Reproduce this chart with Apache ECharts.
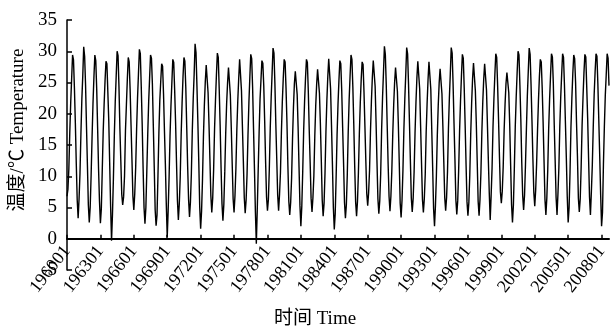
<!DOCTYPE html>
<html>
<head>
<meta charset="utf-8">
<script src="https://cdn.jsdelivr.net/npm/echarts@6/dist/echarts.min.js"></script>
<style>
  html, body { margin: 0; padding: 0; background: #fff; }
  #main { width: 611px; height: 333px; }
</style>
</head>
<body>
<div id="main"></div>
<script>
// monthly mean temperature, one row per year (Jan..Dec)
var temps1960s = [
  [6.8, 7.9, 11.2, 17.0, 21.8, 25.6, 29.4, 28.6, 24.1, 18.5, 12.0, 6.2],
  [3.3, 6.4, 10.5, 16.8, 22.3, 26.1, 30.7, 29.2, 24.6, 18.0, 11.8, 5.4],
  [2.6, 5.1, 10.2, 16.2, 21.6, 25.8, 29.4, 28.5, 24.0, 17.7, 11.2, 6.0],
  [2.5, 4.8, 11.0, 17.1, 21.5, 25.3, 28.4, 28.0, 23.5, 18.9, 12.1, 5.2],
  [-0.3, 3.9, 9.6, 16.5, 22.0, 26.0, 30.0, 29.3, 24.3, 17.6, 12.4, 7.1],
  [5.4, 6.7, 10.1, 17.3, 21.4, 25.5, 29.0, 28.3, 23.9, 18.2, 12.6, 6.8],
  [4.6, 7.2, 11.4, 17.5, 22.5, 26.4, 30.3, 29.6, 24.4, 18.4, 11.3, 5.0],
  [2.4, 5.0, 10.8, 16.7, 21.9, 25.7, 29.4, 28.9, 24.8, 18.1, 11.5, 4.6],
  [2.1, 3.8, 10.0, 16.9, 22.1, 25.2, 28.0, 27.6, 23.2, 17.3, 11.9, 5.5],
  [0.3, 4.5, 9.8, 16.4, 21.2, 25.0, 28.7, 28.2, 23.8, 18.6, 12.2, 6.1]
];
var temps1970s = [
  [3.0, 5.6, 9.9, 16.6, 21.7, 25.9, 29.0, 28.4, 24.2, 17.9, 11.6, 6.3],
  [3.5, 5.9, 10.4, 17.2, 22.4, 26.3, 31.2, 29.8, 24.5, 18.7, 12.3, 5.1],
  [1.6, 4.4, 9.5, 16.3, 21.3, 25.1, 27.8, 27.5, 23.4, 18.3, 12.7, 6.9],
  [4.2, 6.5, 11.1, 17.6, 22.2, 26.2, 29.7, 29.0, 24.0, 18.2, 11.4, 5.6],
  [2.9, 5.5, 10.7, 16.8, 21.6, 24.9, 27.4, 27.1, 23.0, 17.8, 12.0, 6.4],
  [4.2, 6.9, 11.3, 17.4, 22.0, 25.6, 28.7, 28.4, 23.7, 18.0, 12.5, 6.6],
  [4.1, 6.2, 10.3, 16.5, 21.8, 25.8, 29.5, 28.8, 24.2, 17.5, 11.1, 4.3],
  [-0.8, 4.6, 10.9, 17.0, 22.3, 25.4, 28.5, 28.1, 24.5, 18.8, 12.3, 6.7],
  [4.5, 6.3, 11.2, 17.7, 22.6, 26.5, 30.5, 29.7, 24.9, 18.4, 12.8, 7.0],
  [4.5, 7.1, 10.6, 16.9, 21.9, 25.6, 28.7, 28.3, 24.1, 18.6, 11.7, 6.0]
];
var temps1980s = [
  [3.8, 5.8, 9.7, 16.0, 21.0, 24.8, 26.8, 26.5, 23.1, 17.9, 11.5, 5.3],
  [2.0, 5.2, 10.8, 17.3, 22.0, 25.7, 28.7, 28.2, 23.6, 17.4, 12.2, 6.5],
  [4.3, 6.6, 10.1, 16.4, 21.3, 24.7, 27.1, 26.9, 23.3, 18.5, 12.6, 6.2],
  [3.6, 5.7, 10.5, 17.1, 22.1, 25.9, 28.8, 28.5, 24.0, 18.1, 11.9, 5.0],
  [1.5, 4.0, 9.9, 16.6, 21.5, 25.3, 28.5, 28.0, 23.8, 17.8, 12.1, 5.8],
  [3.3, 5.4, 10.2, 17.0, 22.2, 26.0, 29.4, 28.7, 24.3, 18.3, 11.6, 5.9],
  [3.6, 6.0, 10.6, 16.8, 21.7, 25.5, 28.3, 27.9, 23.5, 18.0, 12.4, 7.2],
  [5.3, 7.4, 11.0, 17.2, 22.0, 25.8, 28.5, 28.2, 24.4, 18.7, 12.3, 6.4],
  [4.0, 6.1, 10.4, 17.4, 22.6, 26.6, 30.8, 29.5, 24.6, 18.2, 12.0, 6.8],
  [4.4, 6.8, 10.9, 16.7, 21.4, 25.0, 27.4, 27.2, 23.6, 18.4, 12.2, 5.7]
];
var temps1990s = [
  [3.4, 6.2, 11.1, 17.5, 22.4, 26.3, 30.6, 29.6, 24.7, 18.6, 12.5, 6.5],
  [4.3, 6.5, 10.7, 16.9, 21.8, 25.7, 28.4, 28.1, 24.0, 18.1, 12.1, 6.3],
  [4.2, 6.4, 10.3, 17.0, 21.6, 25.4, 28.3, 28.0, 23.9, 17.6, 11.4, 4.8],
  [2.0, 5.3, 10.0, 16.5, 21.3, 24.9, 27.2, 27.0, 23.2, 18.0, 12.3, 6.6],
  [4.5, 6.6, 10.8, 17.6, 22.5, 26.4, 30.6, 29.7, 24.8, 18.5, 12.7, 6.2],
  [3.9, 6.1, 10.9, 17.2, 22.0, 26.0, 29.5, 28.9, 24.1, 18.2, 11.8, 5.9],
  [3.7, 5.8, 10.2, 16.7, 21.7, 25.6, 28.1, 27.8, 23.7, 18.6, 12.4, 6.0],
  [3.7, 6.3, 10.6, 17.0, 21.9, 25.5, 28.0, 27.7, 23.8, 18.3, 12.6, 7.3],
  [3.0, 6.9, 11.3, 17.8, 22.4, 26.2, 29.6, 29.0, 24.5, 19.0, 13.0, 7.5],
  [5.7, 7.6, 11.5, 17.3, 21.5, 24.8, 26.6, 26.4, 23.4, 18.4, 11.9, 5.5]
];
var temps2000s = [
  [2.6, 5.4, 11.2, 17.9, 22.6, 26.5, 30.0, 29.4, 24.6, 19.1, 12.2, 6.9],
  [4.6, 7.0, 11.8, 17.5, 22.8, 26.7, 30.5, 29.5, 24.7, 18.9, 12.8, 7.4],
  [5.2, 7.8, 12.0, 17.4, 22.1, 25.9, 28.7, 28.3, 24.2, 18.7, 12.5, 6.3],
  [3.8, 6.5, 11.0, 17.6, 22.3, 26.1, 29.6, 29.1, 24.9, 18.2, 12.4, 6.6],
  [3.8, 7.2, 11.4, 18.0, 22.7, 26.3, 29.6, 29.0, 24.6, 18.8, 13.1, 6.8],
  [2.6, 5.0, 10.6, 17.8, 22.5, 26.4, 29.4, 28.8, 25.0, 18.6, 13.2, 6.5],
  [4.3, 6.4, 11.5, 18.1, 22.6, 26.5, 29.5, 29.1, 24.3, 19.3, 12.9, 6.7],
  [3.8, 7.5, 11.7, 17.7, 23.0, 26.6, 29.6, 29.2, 24.8, 19.0, 13.3, 7.1],
  [2.0, 4.2, 11.9, 17.9, 22.9, 26.2, 29.6, 28.9, 24.5]
];
var firstYear = 1960;
var yTicks = { min: -5, max: 35, step: 5 };

var rows = [].concat(temps1960s, temps1970s, temps1980s, temps1990s, temps2000s);
var months = [];
var values = [];
rows.forEach(function (row, i) {
  row.forEach(function (v, m) {
    months.push(String(firstYear + i) + (m < 9 ? '0' : '') + (m + 1));
    values.push(v);
  });
});

var serif = "'Liberation Serif', 'Times New Roman', 'Noto Sans CJK SC', serif";
var chart = echarts.init(document.getElementById('main'), null, { renderer: 'canvas' });
chart.setOption({
  animation: false,
  backgroundColor: '#fff',
  grid: { left: 67, right: 2, top: 20, bottom: 63, containLabel: false, outerBoundsMode: 'none' },
  xAxis: {
    type: 'category',
    boundaryGap: false,
    data: months,
    name: '时间 Time',
    nameLocation: 'middle',
    nameGap: 40,
    nameMoveOverlap: false,
    nameTextStyle: { fontFamily: serif, fontSize: 19, color: '#000', padding: [0, 46, 0, 0] },
    axisLine: { onZero: true, lineStyle: { color: '#000', width: 2 } },
    axisTick: { inside: true, interval: 35, length: 4, lineStyle: { color: '#000', width: 1.5 } },
    axisLabel: { interval: 35, rotate: 52, margin: -22, fontFamily: serif, fontSize: 18, color: '#000' },
    splitLine: { show: false }
  },
  yAxis: {
    type: 'value',
    min: yTicks.min,
    max: yTicks.max,
    interval: yTicks.step,
    name: '温度/℃ Temperature',
    nameLocation: 'middle',
    nameGap: 35,
    nameTextStyle: { fontFamily: serif, fontSize: 19, color: '#000', padding: [0, 0, 0, 30] },
    axisLine: { show: true, lineStyle: { color: '#000', width: 1.5 } },
    axisTick: { show: true, inside: true, length: 5, lineStyle: { color: '#000', width: 1.5 } },
    axisLabel: { margin: 10, fontFamily: serif, fontSize: 19, color: '#000' },
    splitLine: { show: false }
  },
  series: [{
    type: 'line',
    data: values,
    showSymbol: false,
    lineStyle: { color: '#000', width: 1.4 }
  }]
});
</script>
</body>
</html>
